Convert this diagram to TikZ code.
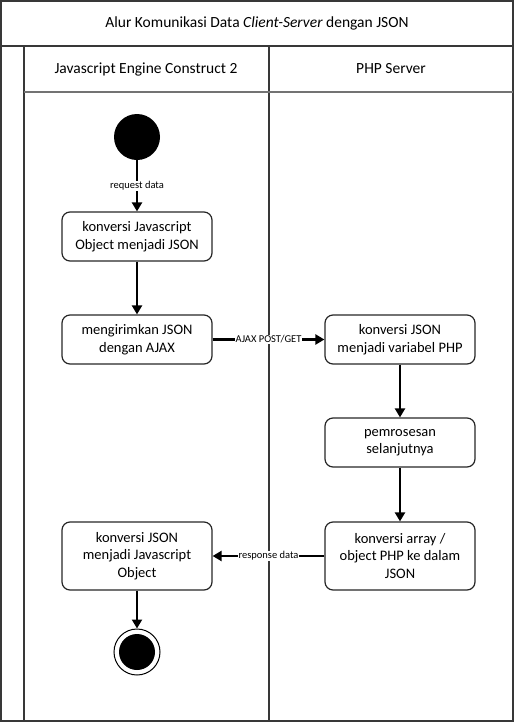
\documentclass[tikz,border=0pt]{standalone}
\usepackage{fontspec}
\setmainfont{Carlito}
\usetikzlibrary{arrows.meta}
\begin{document}
\begin{tikzpicture}[x=1pt,y=-1pt,
 frame/.style={draw=black!78, line width=2pt},
 act/.style={draw=black!85, line width=1.2pt, rounded corners=8pt, minimum height=49pt, minimum width=150pt, inner sep=3pt, align=center, font=\fontsize{14.5}{17.5}\selectfont},
 flow/.style={-{Triangle[length=9pt,width=10pt]}, line width=2.6pt},
 hdr/.style={font=\fontsize{15.5}{18}\selectfont},
 elabel/.style={font=\fontsize{10.5}{11}\selectfont, fill=white, inner sep=0.6pt}]
\useasboundingbox (0,0) rectangle (515,723);
% frame
\draw[frame] (1,1) rectangle (513,721);
\draw[frame] (1,46) -- (513,46);
\draw[frame] (24,46) -- (24,721);
\draw[frame] (269,46) -- (269,721);
\draw[draw=black!55, line width=2pt] (24,92) -- (513,92);
% titles
\node[hdr] (title) at (257,23) {Alur Komunikasi Data \textit{Client-Server} dengan JSON};
\node[hdr] (laneA) at (146,69) {Javascript Engine Construct 2};
\node[hdr] (laneB) at (391,69) {PHP Server};
% nodes
\node[circle, fill=black, minimum size=46pt, inner sep=0pt] (start) at (137,137) {};
\node[act] (b1) at (137,236.5) {konversi Javascript\\Object menjadi JSON};
\node[act] (b2) at (137,339.5) {mengirimkan JSON\\dengan AJAX};
\node[act] (b3) at (400,339.5) {konversi JSON\\menjadi variabel PHP};
\node[act] (b4) at (400,442.5) {pemrosesan\\selanjutnya};
\node[act, minimum height=68pt] (b5) at (400,556) {konversi array /\\object PHP ke dalam\\JSON};
\node[act, minimum height=68pt] (b6) at (137,556) {konversi JSON\\menjadi Javascript\\Object};
\node[circle, draw=black, line width=1pt, fill=white, minimum size=46pt, inner sep=0pt] (end) at (137,652) {};
\node[circle, fill=black, minimum size=36pt, inner sep=0pt] at (end) {};
% edges
\draw[flow] (start) -- node[elabel] {request data} (b1);
\draw[flow] (b1) -- (b2);
\draw[flow] (b2) -- node[elabel] {AJAX POST/GET} (b3);
\draw[flow] (b3) -- (b4);
\draw[flow] (b4) -- (b5);
\draw[flow] (b5) -- node[elabel] {response data} (b6);
\draw[flow] (b6) -- (end);
\end{tikzpicture}
\end{document}
